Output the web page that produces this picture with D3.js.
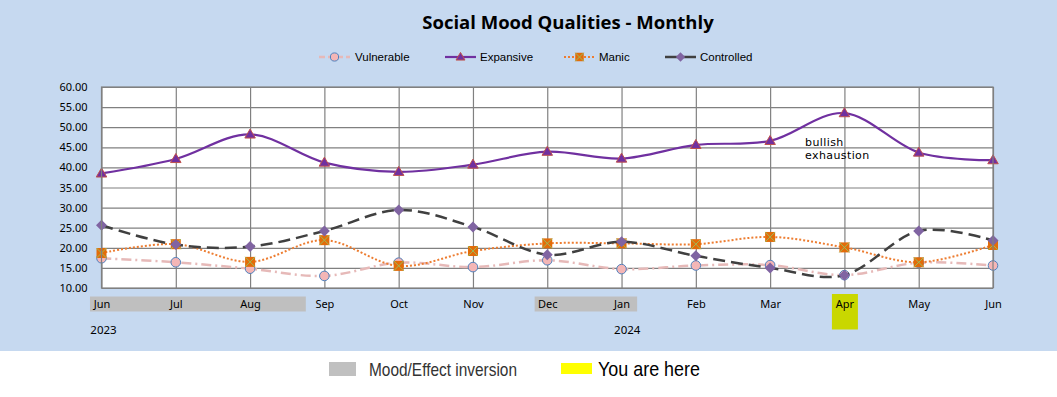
<!DOCTYPE html>
<html><head><meta charset="utf-8">
<script src="https://cdn.jsdelivr.net/npm/d3@7"></script>
<style>
html,body{margin:0;padding:0;background:#fff;}
svg{display:block;}
</style>
</head><body>
<svg id="chart" width="1057" height="397"></svg>
<script>
// ---- data ----
const months = ["Jun","Jul","Aug","Sep","Oct","Nov","Dec","Jan","Feb","Mar","Apr","May","Jun"];
const vulnerable = [17.4,16.4,14.8,13.0,16.3,15.2,16.9,14.7,15.6,15.7,13.2,16.3,15.6];
const expansive  = [38.5,42.1,48.2,41.2,38.9,40.7,43.9,42.2,45.6,46.6,53.5,43.7,41.8];
const manic      = [18.7,20.9,16.5,21.9,15.5,19.2,21.1,21.1,20.9,22.7,20.1,16.4,20.7];
const controlled = [25.6,20.8,20.3,24.2,29.4,25.2,18.3,21.5,18.0,15.0,13.2,24.2,21.8];
const yTicks = [10,15,20,25,30,35,40,45,50,55,60];
const years = [{label:"2023", idx:-0.15},{label:"2024", idx:6.9}];
const inversionBands = [{from:-0.155,to:2.75},{from:5.83,to:7.21}];
const hereIdx = 10;
const title = "Social Mood Qualities - Monthly";
const annotation = {idx:9.47, value:[46.4,43.0], lines:["bullish","exhaustion"]};

const svg = d3.select("#chart");
const W=1057,H=397;
const plot = {l:101.5, r:993, t:87, b:288};

svg.append("rect").attr("x",0).attr("y",0).attr("width",W).attr("height",351).attr("fill","#c6d9f0");
svg.append("rect").attr("x",0).attr("y",351).attr("width",W).attr("height",H-351).attr("fill","#ffffff");

const x = d3.scaleLinear().domain([0,months.length-1]).range([plot.l,plot.r]);
const y = d3.scaleLinear().domain([10,60]).range([plot.b,plot.t]);

// title
svg.append("text").attr("x",568).attr("y",29).attr("text-anchor","middle")
  .attr("font-family","'Open Sans', 'Liberation Sans', sans-serif").attr("font-weight","bold")
  .attr("font-size",18.5).attr("fill","#000").text(title);

// plot bg
svg.append("rect").attr("x",plot.l).attr("y",plot.t).attr("width",plot.r-plot.l).attr("height",plot.b-plot.t).attr("fill","#fff");

// horizontal gridlines via axis
const yGrid = svg.append("g").attr("transform",`translate(${plot.l},0)`)
  .call(d3.axisLeft(y).tickValues(yTicks).tickSize(-(plot.r-plot.l)).tickFormat(""));
yGrid.select(".domain").remove();
yGrid.selectAll("line").attr("stroke","#808080").attr("stroke-width",1.2);
// vertical gridlines
const xGrid = svg.append("g").attr("transform",`translate(0,${plot.b})`)
  .call(d3.axisBottom(x).tickValues(d3.range(months.length)).tickSize(-(plot.b-plot.t)).tickFormat(""));
xGrid.select(".domain").remove();
xGrid.selectAll("line").attr("stroke","#808080").attr("stroke-width",1.2);

// y labels
const yAx = svg.append("g").attr("transform",`translate(${plot.l-11},0)`)
  .call(d3.axisLeft(y).tickValues(yTicks).tickSize(0).tickFormat(d3.format(".2f")));
yAx.select(".domain").remove();
yAx.selectAll("text").attr("font-family","'Noto Sans', 'Liberation Sans', sans-serif").attr("font-size",11).attr("fill","#000").attr("dx",0);

// inversion bands
svg.selectAll("rect.inv").data(inversionBands).enter().append("rect")
  .attr("x",d=>x(d.from)).attr("width",d=>x(d.to)-x(d.from))
  .attr("y",296.5).attr("height",15).attr("fill","#bfbfbf");
// you are here
svg.append("rect").attr("x",x(hereIdx)-12.5).attr("width",26).attr("y",294).attr("height",35.5).attr("fill","#c9d700");

// x labels
const xAx = svg.append("g").attr("transform",`translate(0,${plot.b})`)
  .call(d3.axisBottom(x).tickValues(d3.range(months.length)).tickSize(0).tickFormat(i=>months[i]));
xAx.select(".domain").remove();
xAx.selectAll("text").attr("font-family","'Noto Sans', 'Liberation Sans', sans-serif").attr("font-size",11).attr("fill","#000").attr("dy",0).attr("y",20);

// years
svg.selectAll("text.yr").data(years).enter().append("text")
  .attr("x",d=>x(d.idx)).attr("y",334).attr("font-family","'Noto Sans', 'Liberation Sans', sans-serif")
  .attr("font-size",11.5).attr("fill","#000").text(d=>d.label);

// series
const curve = d3.curveCatmullRom.alpha(0);
const line = d3.line().x((d,i)=>x(i)).y(d=>y(d)).curve(curve);

const series = [
  {name:"Vulnerable", data:vulnerable, color:"#e6b9b8", width:2.5, dash:"10,4,2,4", marker:"circle", fill:"#f4b6b6", mstroke:"#4f81bd"},
  {name:"Expansive", data:expansive, color:"#7030a0", width:2.2, dash:null, marker:"triangle", fill:"#7030a0", mstroke:"#c0504d"},
  {name:"Manic", data:manic, color:"#ed7d31", width:2, dash:"2,2", marker:"square", fill:"#e36c09", mstroke:"#9bbb59"},
  {name:"Controlled", data:controlled, color:"#404040", width:2.5, dash:"12,6", marker:"diamond", fill:"#8064a2", mstroke:"#8064a2"}
];

function drawMarker(g, type, s, cx, cy, scale){
  const k = scale||1;
  if(type==="circle"){
    g.append("circle").attr("cx",cx).attr("cy",cy).attr("r",4.8*k).attr("fill",s.fill).attr("stroke",s.mstroke).attr("stroke-width",1);
  } else if(type==="triangle"){
    const h=9*k, w=10.5*k;
    g.append("path").attr("d",`M${cx},${cy-h*0.6}L${cx+w/2},${cy+h*0.4}L${cx-w/2},${cy+h*0.4}Z`)
      .attr("fill",s.fill).attr("stroke",s.mstroke).attr("stroke-width",1);
  } else if(type==="square"){
    const a=5*k;
    g.append("rect").attr("x",cx-a).attr("y",cy-a).attr("width",2*a).attr("height",2*a).attr("fill",s.fill);
    g.append("path").attr("d",`M${cx-a},${cy-a}L${cx+a},${cy+a}M${cx+a},${cy-a}L${cx-a},${cy+a}`)
      .attr("stroke",s.mstroke).attr("stroke-width",1);
  } else if(type==="diamond"){
    const a=5.5*k;
    g.append("path").attr("d",`M${cx},${cy-a}L${cx+a},${cy}L${cx},${cy+a}L${cx-a},${cy}Z`).attr("fill",s.fill);
  }
}

series.forEach(s=>{
  const g = svg.append("g");
  g.append("path").attr("d",line(s.data)).attr("fill","none").attr("stroke",s.color)
    .attr("stroke-width",s.width).attr("stroke-dasharray",s.dash);
  s.data.forEach((v,i)=>drawMarker(g,s.marker,s,x(i),y(v)));
});

// plot border
svg.append("rect").attr("x",plot.l).attr("y",plot.t).attr("width",plot.r-plot.l).attr("height",plot.b-plot.t)
  .attr("fill","none").attr("stroke","#808080").attr("stroke-width",1.2);

// annotation
annotation.lines.forEach((t,i)=>{
  svg.append("text").attr("x",x(annotation.idx)).attr("y",y(annotation.value[i])+4)
    .attr("font-family","'DejaVu Sans', sans-serif").attr("font-size",11).attr("fill","#000")
    .attr("letter-spacing",0.4).text(t);
});

// legend
const legX = [319,445,564,665];
const lg = svg.append("g");
series.forEach((s,i)=>{
  const lx = legX[i], ly = 57;
  lg.append("line").attr("x1",lx).attr("x2",lx+31).attr("y1",ly).attr("y2",ly)
    .attr("stroke",s.color).attr("stroke-width",s.width).attr("stroke-dasharray",s.name==="Vulnerable"?"6,3":(s.name==="Manic"?"2,2":null));
  drawMarker(lg,s.marker,s,lx+15.5,ly,0.85);
  lg.append("text").attr("x",lx+(i===0?36:35)).attr("y",ly+4).attr("font-family","'Liberation Sans', Arial, sans-serif")
    .attr("font-size",11.5).attr("fill","#000").text(s.name);
});

// bottom legend
svg.append("rect").attr("x",329).attr("y",362).attr("width",27).attr("height",14).attr("fill","#c0c0c0");
svg.append("text").attr("x",369).attr("y",376).attr("font-family","'Liberation Sans', Arial, sans-serif")
  .attr("font-size",19).attr("fill","#333").attr("textLength",148).attr("lengthAdjust","spacingAndGlyphs").text("Mood/Effect inversion");
svg.append("rect").attr("x",561).attr("y",363).attr("width",31).attr("height",11).attr("fill","#ffff00");
svg.append("text").attr("x",598).attr("y",376).attr("font-family","'Liberation Sans', Arial, sans-serif")
  .attr("font-size",21).attr("fill","#000").attr("textLength",102).attr("lengthAdjust","spacingAndGlyphs").text("You are here");
</script>
</body></html>
